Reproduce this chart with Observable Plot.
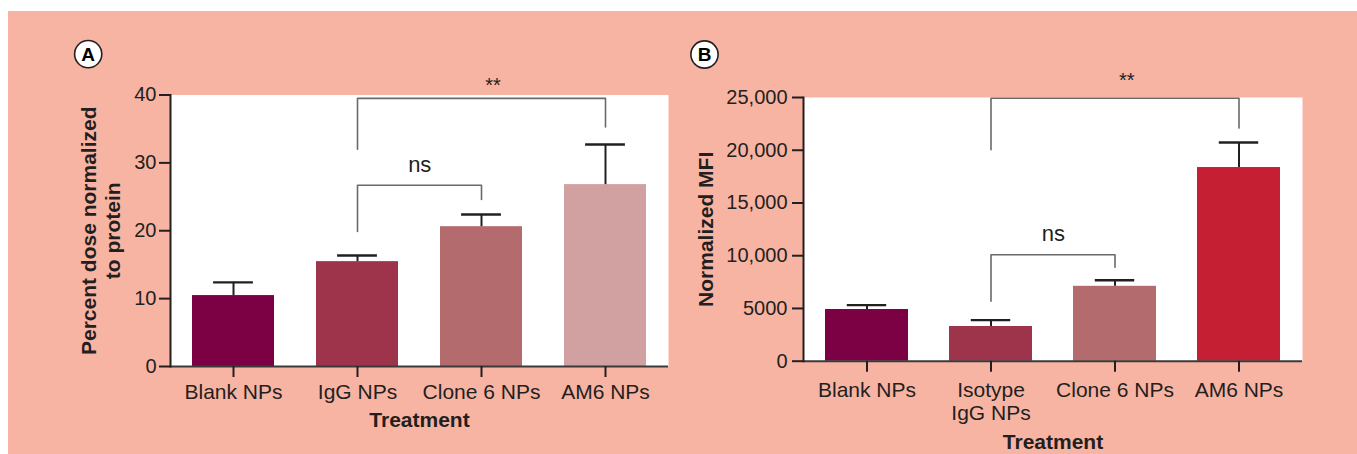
<!DOCTYPE html>
<html>
<head>
<meta charset="utf-8">
<script src="https://cdn.jsdelivr.net/npm/d3@7"></script>
<script src="https://cdn.jsdelivr.net/npm/@observablehq/plot@0.6"></script>
<style>
  body { margin: 0; background: white; }
  #wrap { position: relative; width: 1357px; height: 454px; background: white; overflow: hidden; }
  #bg { position: absolute; left: 8px; top: 11px; right: 0; bottom: 0; background: #F8B4A3; }
  .panel { position: absolute; top: 0; }
</style>
</head>
<body>
<div id="wrap"><div id="bg"></div><div id="pa" class="panel" style="left:0"></div><div id="pb" class="panel" style="left:680px"></div></div>
<script>
// ---------- Data: panel A ----------
const catsA = ["Blank NPs", "IgG NPs", "Clone 6 NPs", "AM6 NPs"];
const meansA = [10.45, 15.45, 20.6, 26.8];
const sdA = [1.95, 0.9, 1.8, 5.9];
const colorsA = ["#7C0044", "#9E344B", "#B46B6E", "#D1A1A1"];
const yTicksA = [0, 10, 20, 30, 40];
const yLabelA = ["Percent dose normalized", "to protein"];
const bracketFromA = ["IgG NPs", "IgG NPs"];
const bracketToA = ["AM6 NPs", "Clone 6 NPs"];
const bracketTopA = [39.5, 26.7];
const bracketFromEndA = [32.0, 19.9];
const bracketToEndA = [35.3, 24.6];
const bracketLabelA = ["**", "ns"];
const bracketLabelYA = [40.5, 28.6];

// ---------- Data: panel B ----------
const catsB = ["Blank NPs", "Isotype\nIgG NPs", "Clone 6 NPs", "AM6 NPs"];
const meansB = [4900, 3290, 7100, 18360];
const sdB = [420, 600, 580, 2370];
const colorsB = ["#7C0044", "#9E344B", "#B46B6E", "#C41F33"];
const yTicksB = [0, 5000, 10000, 15000, 20000, 25000];
const yTickLabelsB = ["0", "5000", "10,000", "15,000", "20,000", "25,000"];
const yLabelB = ["Normalized MFI"];
const bracketFromB = ["Isotype\nIgG NPs", "Isotype\nIgG NPs"];
const bracketToB = ["AM6 NPs", "Clone 6 NPs"];
const bracketTopB = [24930, 10090];
const bracketFromEndB = [20050, 5690];
const bracketToEndB = [22100, 8900];
const bracketLabelB = ["**", "ns"];
const bracketLabelYB = [26000, 11440];

const xTitle = "Treatment";

// ---------- Styles ----------
const INK = "#231F20";
const FONT = "'Liberation Sans', Arial, Helvetica, sans-serif";

function panel(cfg) {
  const data = cfg.cats.map((c, i) => ({cat: c, mean: cfg.means[i], sd: cfg.sd[i]}));
  const brackets = cfg.bFrom.map((f, i) => ({
    id: i, from: f, to: cfg.bTo[i], top: cfg.bTop[i], fromEnd: cfg.bFromEnd[i],
    toEnd: cfg.bToEnd[i], label: cfg.bLabel[i], labelY: cfg.bLabelY[i]
  }));
  const pts = brackets.flatMap(b => [
    {id: b.id, x: b.from, y: b.fromEnd},
    {id: b.id, x: b.from, y: b.top},
    {id: b.id, x: b.to, y: b.top},
    {id: b.id, x: b.to, y: b.toEnd}
  ]);
  const innerW = cfg.width - cfg.ml - cfg.mr;
  const pad = cfg.padding;
  const step = innerW / (cfg.cats.length - pad + pad);
  const bw = step * (1 - pad);
  const capInset = (bw - 40) / 2;
  const idx = c => cfg.cats.indexOf(c);

  const labelMarks = brackets.map(b => Plot.text([b], {
    x: "from", y: "labelY", text: "label",
    dx: (idx(b.to) - idx(b.from)) / 2 * step + (b.label === "**" ? 11 : 0),
    lineAnchor: "bottom", textAnchor: "middle", fontSize: b.label === "**" ? 20 : 22, fill: INK
  }));

  return Plot.plot({
    width: cfg.width, height: 454,
    marginLeft: cfg.ml, marginRight: cfg.mr, marginTop: cfg.mt, marginBottom: cfg.mb,
    style: {background: "transparent", fontFamily: FONT, fontSize: "20px", color: INK, overflow: "visible"},
    x: {type: "band", domain: cfg.cats, paddingInner: pad, paddingOuter: pad / 2, label: null},
    y: {domain: cfg.yDomain, label: null},
    color: {domain: cfg.cats, range: cfg.colors},
    marks: [
      Plot.frame({fill: "white", stroke: null}),
      Plot.barY(data, {x: "cat", y: "mean", fill: "cat"}),
      Plot.ruleX(data, {x: "cat", y1: "mean", y2: d => d.mean + d.sd, stroke: INK, strokeWidth: 2}),
      Plot.tickY(data, {x: "cat", y: d => d.mean + d.sd, insetLeft: capInset, insetRight: capInset, stroke: INK, strokeWidth: 2.4}),
      Plot.line(pts, {x: "x", y: "y", z: "id", stroke: "#6a6a6a", strokeWidth: 1.6, curve: "linear"}),
      ...labelMarks,
      Plot.ruleY([0], {stroke: "#3a3a3a", strokeWidth: 2}),
      Plot.frame({anchor: "left", stroke: INK, strokeWidth: 2}),
      Plot.axisY({ticks: cfg.yTicks, tickFormat: cfg.yFormat, tickSize: 11, tickPadding: cfg.yPad, fontSize: 20, strokeWidth: 2, label: null}),
      Plot.axisX({tickSize: 11, tickPadding: cfg.xPad, fontSize: 21, strokeWidth: 2, lineHeight: 1.1, label: null}),
      Plot.text([cfg.yLabel.join("\n")], {
        frameAnchor: "left", text: d => d, rotate: -90, dx: cfg.yLabelDx,
        textAnchor: "middle", lineAnchor: "middle", lineHeight: 1.19, fontSize: 21, fontWeight: "bold", fill: INK
      }),
      Plot.text([xTitle], {
        frameAnchor: "bottom", text: d => d, dy: cfg.xTitleDy, lineAnchor: "bottom", textAnchor: "middle",
        fontSize: 21, fontWeight: "bold", fill: INK
      }),
      Plot.dot([cfg.letter], {
        frameAnchor: "top-left", dx: cfg.letterX - cfg.ml, dy: cfg.letterY - cfg.mt,
        r: 13.6, fill: "white", stroke: INK, strokeWidth: 1.6
      }),
      Plot.text([cfg.letter], {
        frameAnchor: "top-left", text: d => d, dx: cfg.letterX - cfg.ml, dy: cfg.letterY - cfg.mt + 0.5,
        textAnchor: "middle", lineAnchor: "middle", fontSize: 19, fontWeight: "bold", fill: "#000"
      })
    ]
  });
}

document.getElementById("pa").append(panel({
  cats: catsA, means: meansA, sd: sdA, colors: colorsA, yTicks: yTicksA,
  yFormat: d => String(d), yDomain: [0, 40], yLabel: yLabelA,
  bFrom: bracketFromA, bTo: bracketToA, bTop: bracketTopA, bFromEnd: bracketFromEndA,
  bToEnd: bracketToEndA, bLabel: bracketLabelA, bLabelY: bracketLabelYA,
  width: 680, ml: 170, mr: 12, mt: 94.5, mb: 88, padding: 0.34,
  yPad: 3, xPad: 5, yLabelDx: 99.5 - 170, xTitleDy: 60.7,
  letter: "A", letterX: 87.7, letterY: 53.6
}));

document.getElementById("pb").append(panel({
  cats: catsB, means: meansB, sd: sdB, colors: colorsB, yTicks: yTicksB,
  yFormat: d => yTickLabelsB[yTicksB.indexOf(d)], yDomain: [0, 25000], yLabel: yLabelB,
  bFrom: bracketFromB, bTo: bracketToB, bTop: bracketTopB, bFromEnd: bracketFromEndB,
  bToEnd: bracketToEndB, bLabel: bracketLabelB, bLabelY: bracketLabelYB,
  width: 677, ml: 123, mr: 55, mt: 97, mb: 93.3, padding: 0.33,
  yPad: 5, xPad: 8, yLabelDx: 704 - 803, xTitleDy: 87.6,
  letter: "B", letterX: 704 - 680, letterY: 54
}));
</script>
</body>
</html>
